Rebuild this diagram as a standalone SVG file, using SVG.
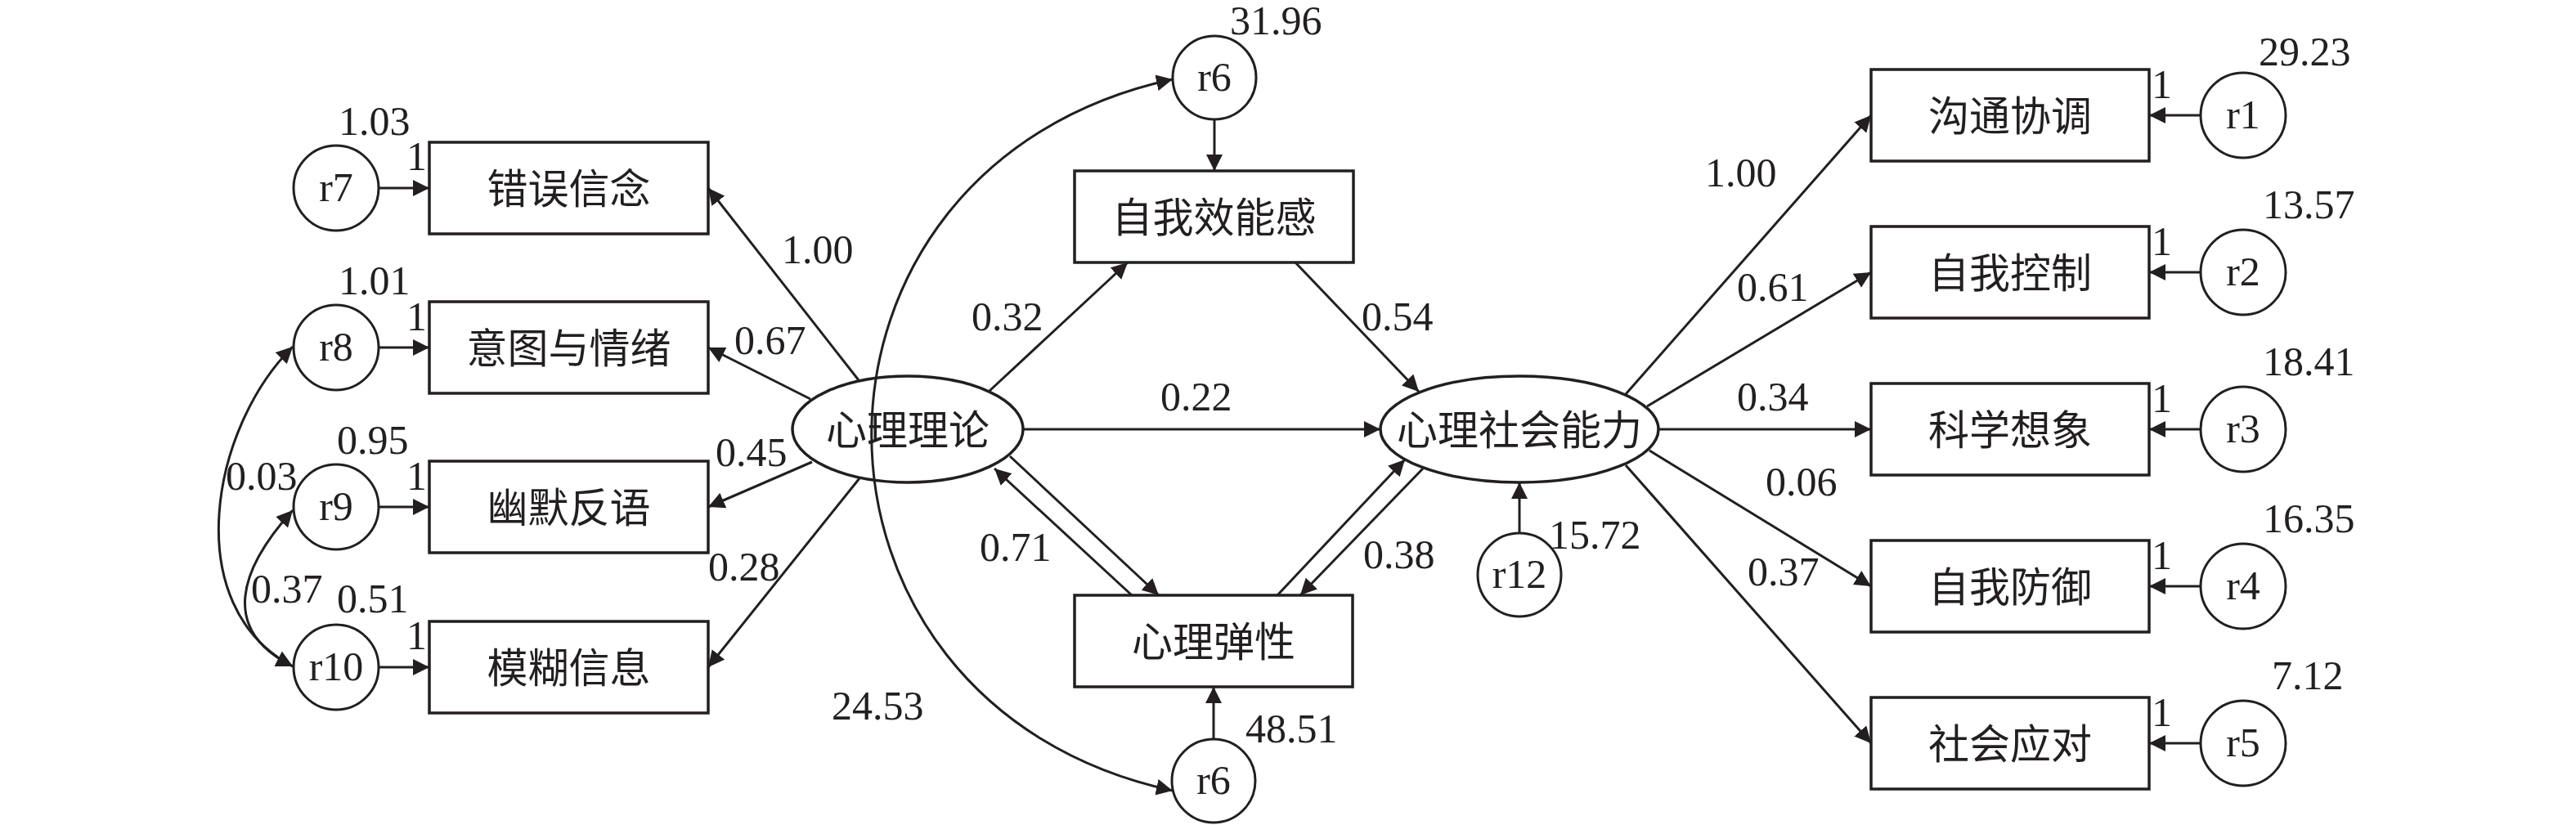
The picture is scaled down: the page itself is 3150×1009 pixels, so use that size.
<svg xmlns="http://www.w3.org/2000/svg" width="3150" height="1009" viewBox="0 0 3150 1009">
<defs>
<marker id="ah" markerUnits="userSpaceOnUse" markerWidth="20" markerHeight="20" refX="20" refY="10" orient="auto-start-reverse" viewBox="0 0 20 20">
<path d="M0,0 L20,10 L0,20 z" fill="#231f20"/>
</marker>
<style>
.box{fill:#fff;stroke:#231f20;stroke-width:3.5}
.ell{fill:#fff;stroke:#231f20;stroke-width:3.5}
.circ{fill:#fff;stroke:#231f20;stroke-width:3}
.e{fill:none;stroke:#231f20;stroke-width:3;marker-end:url(#ah)}
.bi{fill:none;stroke:#231f20;stroke-width:3;marker-start:url(#ah);marker-end:url(#ah)}
.num{font-family:"Liberation Serif","Times New Roman",serif;font-size:50px;fill:#231f20}
.rl{font-family:"Liberation Serif","Times New Roman",serif;font-size:50px;fill:#231f20;text-anchor:middle}
.cn{font-family:"Noto Sans CJK SC","Noto Sans CJK TC",sans-serif;font-size:50px;fill:#231f20;text-anchor:middle}
</style>
</defs>
<rect width="3150" height="1009" fill="#fff"/>

<g id="nodes">
<g id="n-cuowu"><rect class="box" x="525" y="174" width="341" height="112"/><text class="cn" x="695.5" y="249">错误信念</text></g>
<g id="n-yitu"><rect class="box" x="525" y="369" width="341" height="112"/><text class="cn" x="695.5" y="444">意图与情绪</text></g>
<g id="n-youmo"><rect class="box" x="525" y="564" width="341" height="112"/><text class="cn" x="695.5" y="639">幽默反语</text></g>
<g id="n-mohu"><rect class="box" x="525" y="760" width="341" height="112"/><text class="cn" x="695.5" y="835">模糊信息</text></g>

<g id="n-r7"><circle class="circ" cx="411" cy="230" r="52"/><text class="rl" x="411" y="246">r7</text></g>
<g id="n-r8"><circle class="circ" cx="411" cy="425" r="52"/><text class="rl" x="411" y="441">r8</text></g>
<g id="n-r9"><circle class="circ" cx="411" cy="620" r="52"/><text class="rl" x="411" y="636">r9</text></g>
<g id="n-r10"><circle class="circ" cx="411" cy="816" r="52"/><text class="rl" x="411" y="832">r10</text></g>

<g id="n-xllun"><ellipse class="ell" cx="1110" cy="525" rx="141" ry="65"/><text class="cn" x="1110" y="544">心理理论</text></g>
<g id="n-xlsh"><ellipse class="ell" cx="1858" cy="525" rx="170" ry="65"/><text class="cn" x="1858" y="544">心理社会能力</text></g>

<g id="n-zwxng"><rect class="box" x="1314" y="209" width="341" height="112"/><text class="cn" x="1484.5" y="284">自我效能感</text></g>
<g id="n-xltx"><rect class="box" x="1314" y="728" width="340" height="112"/><text class="cn" x="1484" y="803">心理弹性</text></g>

<g id="n-r6a"><circle class="circ" cx="1485" cy="95" r="51"/><text class="rl" x="1485" y="111">r6</text></g>
<g id="n-r6b"><circle class="circ" cx="1484" cy="955" r="51"/><text class="rl" x="1484" y="971">r6</text></g>
<g id="n-r12"><circle class="circ" cx="1858" cy="703" r="51"/><text class="rl" x="1858" y="719">r12</text></g>

<g id="n-goutong"><rect class="box" x="2288" y="85" width="340" height="112"/><text class="cn" x="2458" y="160">沟通协调</text></g>
<g id="n-kongzhi"><rect class="box" x="2288" y="277" width="340" height="112"/><text class="cn" x="2458" y="352">自我控制</text></g>
<g id="n-kexue"><rect class="box" x="2288" y="469" width="340" height="112"/><text class="cn" x="2458" y="544">科学想象</text></g>
<g id="n-fangyu"><rect class="box" x="2288" y="661" width="340" height="112"/><text class="cn" x="2458" y="736">自我防御</text></g>
<g id="n-yingdui"><rect class="box" x="2288" y="853" width="340" height="112"/><text class="cn" x="2458" y="928">社会应对</text></g>

<g id="n-r1"><circle class="circ" cx="2743" cy="141" r="52"/><text class="rl" x="2743" y="157">r1</text></g>
<g id="n-r2"><circle class="circ" cx="2743" cy="333" r="52"/><text class="rl" x="2743" y="349">r2</text></g>
<g id="n-r3"><circle class="circ" cx="2743" cy="525" r="52"/><text class="rl" x="2743" y="541">r3</text></g>
<g id="n-r4"><circle class="circ" cx="2743" cy="717" r="52"/><text class="rl" x="2743" y="733">r4</text></g>
<g id="n-r5"><circle class="circ" cx="2743" cy="909" r="52"/><text class="rl" x="2743" y="925">r5</text></g>
</g>

<g id="connectors">
<line class="e" x1="463" y1="230" x2="525" y2="230"/>
<line class="e" x1="463" y1="425" x2="525" y2="425"/>
<line class="e" x1="463" y1="620" x2="525" y2="620"/>
<line class="e" x1="463" y1="816" x2="525" y2="816"/>
<path class="bi" d="M358,424 C258,523 218,741 358,815"/>
<path class="bi" d="M358,624 C293,696 268,770 358,815"/>
<line class="e" x1="1050" y1="465" x2="866" y2="230"/>
<line class="e" x1="991" y1="488" x2="866" y2="425"/>
<line class="e" x1="993" y1="565" x2="866" y2="620"/>
<line class="e" x1="1051" y1="585" x2="866" y2="816"/>
<line class="e" x1="1485" y1="146" x2="1485" y2="209"/>
<line class="e" x1="1210" y1="478" x2="1379" y2="321"/>
<line class="e" x1="1584" y1="321" x2="1735" y2="479"/>
<line class="e" x1="1252" y1="525" x2="1688" y2="525"/>
<line class="e" x1="1384" y1="728" x2="1216" y2="573"/>
<line class="e" x1="1235" y1="558" x2="1417" y2="728"/>
<line class="e" x1="1562" y1="728" x2="1718" y2="562"/>
<line class="e" x1="1740" y1="573" x2="1590" y2="728"/>
<line class="e" x1="1484" y1="904" x2="1484" y2="840"/>
<line class="e" x1="1858" y1="652" x2="1858" y2="590"/>
<path class="bi" d="M1434,97 C943,203 943,861 1434,967"/>
<line class="e" x1="1988" y1="482" x2="2288" y2="141"/>
<line class="e" x1="2014" y1="497" x2="2288" y2="333"/>
<line class="e" x1="2028" y1="525" x2="2288" y2="525"/>
<line class="e" x1="2017" y1="551" x2="2288" y2="717"/>
<line class="e" x1="1988" y1="569" x2="2288" y2="909"/>
<line class="e" x1="2691" y1="141" x2="2628" y2="141"/>
<line class="e" x1="2691" y1="333" x2="2628" y2="333"/>
<line class="e" x1="2691" y1="525" x2="2628" y2="525"/>
<line class="e" x1="2691" y1="717" x2="2628" y2="717"/>
<line class="e" x1="2691" y1="909" x2="2628" y2="909"/>
</g>

<g id="labels">
<text class="num" x="414" y="165">1.03</text>
<text class="num" x="497" y="208">1</text>
<text class="num" x="414" y="360">1.01</text>
<text class="num" x="497" y="404">1</text>
<text class="num" x="412" y="555">0.95</text>
<text class="num" x="497" y="599">1</text>
<text class="num" x="412" y="749">0.51</text>
<text class="num" x="497" y="794">1</text>
<text class="num" x="276" y="599">0.03</text>
<text class="num" x="307" y="737">0.37</text>
<text class="num" x="956" y="322">1.00</text>
<text class="num" x="898" y="433">0.67</text>
<text class="num" x="875" y="570">0.45</text>
<text class="num" x="866" y="710">0.28</text>
<text class="num" x="1504" y="42">31.96</text>
<text class="num" x="1188" y="404">0.32</text>
<text class="num" x="1665" y="404">0.54</text>
<text class="num" x="1419" y="502">0.22</text>
<text class="num" x="1198" y="686">0.71</text>
<text class="num" x="1667" y="695">0.38</text>
<text class="num" x="1017" y="880">24.53</text>
<text class="num" x="1523" y="908">48.51</text>
<text class="num" x="1894" y="671">15.72</text>
<text class="num" x="2085" y="228">1.00</text>
<text class="num" x="2124" y="368">0.61</text>
<text class="num" x="2124" y="502">0.34</text>
<text class="num" x="2159" y="606">0.06</text>
<text class="num" x="2137" y="716">0.37</text>
<text class="num" x="2762" y="80">29.23</text>
<text class="num" x="2767" y="267">13.57</text>
<text class="num" x="2767" y="459">18.41</text>
<text class="num" x="2767" y="651">16.35</text>
<text class="num" x="2778" y="843">7.12</text>
<text class="num" x="2631" y="120">1</text>
<text class="num" x="2631" y="312">1</text>
<text class="num" x="2631" y="504">1</text>
<text class="num" x="2631" y="696">1</text>
<text class="num" x="2631" y="888">1</text>
</g>
</svg>
